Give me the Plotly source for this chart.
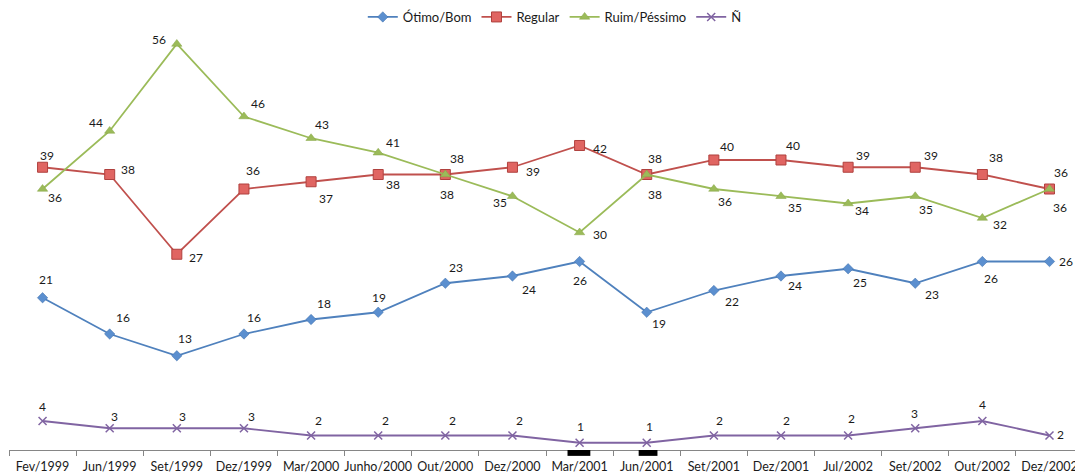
import plotly.graph_objects as go

categories = ["Fev/1999", "Jun/1999", "Set/1999", "Dez/1999", "Mar/2000", "Junho/2000",
              "Out/2000", "Dez/2000", "Mar/2001", "Jun/2001", "Set/2001", "Dez/2001",
              "Jul/2002", "Set/2002", "Out/2002", "Dez/2002"]

otimo_bom = [21, 16, 13, 16, 18, 19, 23, 24, 26, 19, 22, 24, 25, 23, 26, 26]
regular = [39, 38, 27, 36, 37, 38, 38, 39, 42, 38, 40, 40, 39, 39, 38, 36]
ruim_pessimo = [36, 44, 56, 46, 43, 41, 38, 35, 30, 38, 36, 35, 34, 35, 32, 36]
nao_sabe = [4, 3, 3, 3, 2, 2, 2, 2, 1, 1, 2, 2, 2, 3, 4, 2]

# label offsets in pixels (dx, dy up)
off_otimo = [(3, 18), (13, 17), (8, 17), (10, 17), (13, 16), (1, 15), (11, 16), (17, -13),
             (0, -19), (12, -11), (18, -11), (14, -9), (12, -14), (17, -11), (9, -17), (17, 0)]
off_regular = [(4, 12), (18, 5), (19, -3), (9, 19), (15, -17), (15, -10), (12, 16), (21, -4),
               (20, -3), (8, 16), (13, 13), (12, 14), (15, 12), (16, 12), (14, 17), (12, 17)]
off_ruim = [(12, -8), (-14, 8), (-18, 4), (14, 13), (11, 14), (15, 10), (2, -20), (-12, -6),
            (20, -2), (8, -20), (11, -12), (14, -11), (14, -7), (11, -13), (18, -6), (11, -18)]
off_nao = [(0, 15), (5, 12), (6, 12), (8, 12), (7, 15), (7, 15), (7, 15), (7, 15),
           (1, 16), (3, 16), (6, 15), (6, 15), (3, 17), (-1, 15), (0, 17), (11, 1)]

FONT = "Lato, 'Open Sans', sans-serif"

series = [
    ("Ótimo/Bom", otimo_bom, off_otimo, "#4F81BD",
     dict(symbol="diamond", size=8, color="#5B8FCF", line=dict(color="#3F6FA8", width=0.5))),
    ("Regular", regular, off_regular, "#C0504D",
     dict(symbol="square", size=10, color="#E06562", line=dict(color="#B0413E", width=1))),
    ("Ruim/Péssimo", ruim_pessimo, off_ruim, "#9BBB59",
     dict(symbol="triangle-up", size=9, color="#9BBB59", line=dict(color="#86A446", width=0.5))),
    ("Ñ", nao_sabe, off_nao, "#8064A2",
     dict(symbol="x-thin", size=8, color="#8064A2", line=dict(color="#8064A2", width=1.5))),
]

fig = go.Figure()
annotations = []
for name, vals, offs, color, marker in series:
    fig.add_trace(go.Scatter(
        x=categories, y=vals, name=name, mode="lines+markers",
        line=dict(color=color, width=1.8), marker=marker, hoverinfo="skip",
    ))
    for cat, v, (dx, dy) in zip(categories, vals, offs):
        annotations.append(dict(
            x=cat, y=v, xref="x", yref="y", text=str(v), showarrow=False,
            xshift=dx, yshift=dy, font=dict(family=FONT, size=12, color="#1a1a1a"),
        ))

# small black marks under two categories on the axis
shapes = []
for cat, a, b in [("Mar/2001", -0.18, 0.16), ("Jun/2001", -0.12, 0.16)]:
    i = categories.index(cat)
    shapes.append(dict(type="rect", xref="x", yref="paper", x0=i + a, x1=i + b,
                       y0=-0.014, y1=0.0, fillcolor="black", line=dict(width=0),
                       layer="above"))

fig.update_layout(
    width=1075, height=474,
    margin=dict(l=9, r=0, t=30, b=24, autoexpand=False),
    paper_bgcolor="white", plot_bgcolor="white",
    font=dict(family=FONT, size=13, color="#1a1a1a"),
    showlegend=True,
    legend=dict(orientation="h", x=0.512, xanchor="center", y=1.031, yanchor="middle",
                font=dict(family=FONT, size=13, color="#1a1a1a"),
                itemwidth=30, tracegroupgap=0, bgcolor="rgba(0,0,0,0)"),
    annotations=annotations,
    shapes=shapes,
    xaxis=dict(type="category", range=[-0.5, 15.38], showgrid=False, zeroline=False,
               automargin=False, tickangle=0, ticklabelstandoff=5,
               showline=True, linecolor="#868686", linewidth=1,
               ticks="outside", tickson="boundaries", ticklen=5, tickcolor="#868686",
               tickfont=dict(family=FONT, size=12.5, color="#1a1a1a")),
    yaxis=dict(range=[0, 57.93], visible=False, showgrid=False, zeroline=False,
               automargin=False),
)

fig.write_html("out.html")
